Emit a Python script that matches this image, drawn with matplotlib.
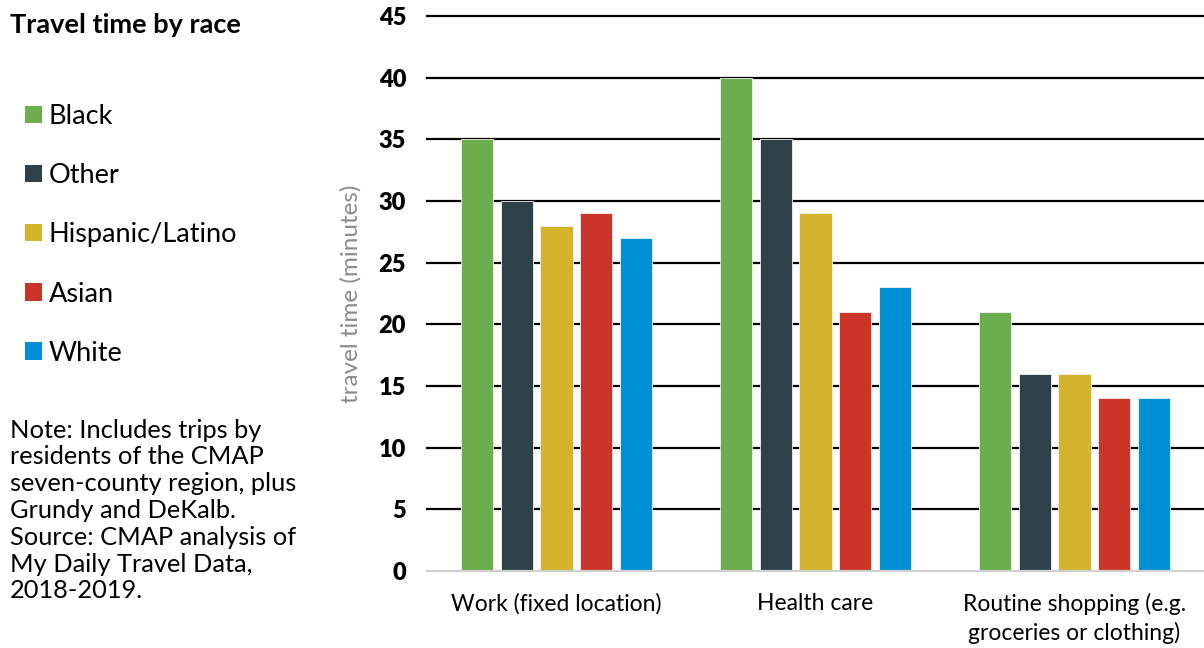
import numpy as np
import matplotlib.pyplot as plt
from matplotlib.patches import Patch

plt.rcParams['font.family'] = ['Lato', 'DejaVu Sans']

categories = ['Work (fixed location)', 'Health care',
              'Routine shopping (e.g.\ngroceries or clothing)']
races = ['Black', 'Other', 'Hispanic/Latino', 'Asian', 'White']
black = [35, 40, 21]
other = [30, 35, 16]
hispanic = [28, 29, 16]
asian = [29, 21, 14]
white = [27, 23, 14]
colors = ['#6CAE4E', '#2F4148', '#D4B42B', '#CB3428', '#0090D6']

series = [black, other, hispanic, asian, white]

fig = plt.figure(figsize=(12.04, 6.48), dpi=100)
ax = fig.add_axes([0.3547, 0.1188, 0.6453, 0.8565])

x = np.arange(len(categories))
pitch = 0.154
width = 0.124
bars = []
for i, (vals, c) in enumerate(zip(series, colors)):
    b = ax.bar(x + (i - 2) * pitch, vals, width, color=c,
               edgecolor='#f2f2f2', linewidth=0.6, zorder=3)
    bars.append(b)

ax.set_xlim(-0.5, 2.5)
ax.set_ylim(0, 45)
ax.set_yticks(np.arange(0, 50, 5))
for v in range(5, 50, 5):
    ax.axhline(v, color='black', lw=1.6, zorder=2, clip_on=False)
ax.axhline(0, color='#d0d0d0', lw=1.6, zorder=4, clip_on=False)

for s in ax.spines.values():
    s.set_visible(False)
ax.tick_params(axis='both', length=0)
ax.tick_params(axis='y', pad=15, labelsize=17)
for t in ax.get_yticklabels():
    t.set_fontweight('heavy')
ax.set_xticks(x)
ax.set_xticklabels(categories, fontsize=16.5, linespacing=1.35)
ax.tick_params(axis='x', pad=16)
ax.set_ylabel('travel time (minutes)', color='#8c8c8c', fontsize=17.5,
              fontweight='normal', labelpad=12)

fig.text(0.008, 0.961, 'Travel time by race', fontsize=19.5,
         fontweight='bold', va='center', ha='left')

handles = [Patch(facecolor=c, label=r) for c, r in zip(colors, races)]
fig.legend(handles=handles, loc='upper left', bbox_to_anchor=(0.012, 0.856),
           frameon=False, fontsize=19.5, handlelength=0.6, handleheight=0.6,
           handletextpad=0.26, labelspacing=1.26, borderaxespad=0)

note = ('Note: Includes trips by\nresidents of the CMAP\n'
        'seven-county region, plus\nGrundy and DeKalb.\n'
        'Source: CMAP analysis of\nMy Daily Travel Data,\n2018-2019.')
fig.text(0.008, 0.354, note, fontsize=18.3, va='top', ha='left',
         linespacing=1.2)

fig.savefig('out.png', dpi=100)
